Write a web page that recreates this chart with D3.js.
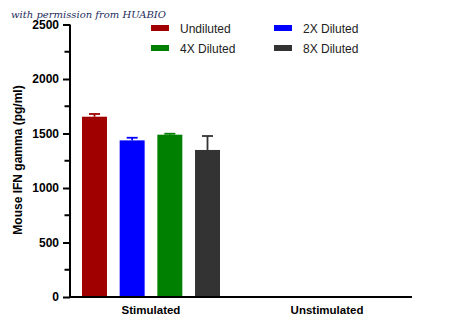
<!DOCTYPE html>
<html><head><meta charset="utf-8">
<script src="https://cdn.jsdelivr.net/npm/d3@7"></script>
<style>body{margin:0;background:#fff}svg{display:block}</style>
</head><body>
<script>
const groups = ["Stimulated", "Unstimulated"];
const series = ["Undiluted", "2X Diluted", "4X Diluted", "8X Diluted"];
const legendOrder = ["Undiluted", "4X Diluted", "2X Diluted", "8X Diluted"];
const colors = ["#a00000", "#0000ff", "#008000", "#333333"];
const stimulatedMeans = [1654, 1437, 1489, 1349];
const stimulatedErr = [25, 24, 9, 128];
const unstimulatedMeans = [null, null, null, null];
const unstimulatedErr = [null, null, null, null];
const yTicks = [0, 500, 1000, 1500, 2000, 2500];

const W = 450, H = 329;
const svg = d3.select("body").append("svg").attr("width", W).attr("height", H);

const y = d3.scaleLinear().domain([0, 2500]).range([297, 24.5]);
const x0 = d3.scaleBand().domain(groups).range([63, 415]);
const span = 138;
const x1 = d3.scaleBand().domain(series).range([0, span]).paddingInner(0.337).paddingOuter(0.0);

const data = [
  {g: "Stimulated", m: stimulatedMeans, e: stimulatedErr},
  {g: "Unstimulated", m: unstimulatedMeans, e: unstimulatedErr}
];

const offset = (x0.bandwidth() - span) / 2;
data.forEach(d => {
  series.forEach((s, i) => {
    if (d.m[i] == null) return;
    const bx = x0(d.g) + offset + x1(s);
    const bw = x1.bandwidth();
    svg.append("rect").attr("x", bx).attr("y", y(d.m[i]))
      .attr("width", bw).attr("height", y(0) - y(d.m[i]))
      .attr("fill", colors[i]);
    const cx = bx + bw / 2;
    const top = y(d.m[i] + d.e[i]);
    svg.append("line").attr("x1", cx).attr("x2", cx).attr("y1", y(d.m[i])).attr("y2", top)
      .attr("stroke", colors[i]).attr("stroke-width", 1.8);
    svg.append("line").attr("x1", cx - 5.5).attr("x2", cx + 5.5).attr("y1", top).attr("y2", top)
      .attr("stroke", colors[i]).attr("stroke-width", 1.8);
  });
});

// Y axis
const yAxis = d3.axisLeft(y).tickValues(yTicks).tickSize(7).tickPadding(4).tickFormat(d3.format("d"));
const yg = svg.append("g").attr("transform", "translate(70,0)").call(yAxis);
yg.select(".domain").attr("stroke", "#000").attr("stroke-width", 2).attr("d", `M0,${y(2500)}V${y(0)}`);
yg.selectAll(".tick line").attr("stroke-width", 2);
yg.selectAll(".tick text").attr("font-family", "Liberation Sans, Arial, sans-serif")
  .attr("font-size", 12).attr("font-weight", "bold").attr("fill", "#000");
const minor = d3.range(250, 2500, 500);
svg.append("g").selectAll("line").data(minor).join("line")
  .attr("x1", 64.5).attr("x2", 70).attr("y1", d => y(d)).attr("y2", d => y(d))
  .attr("stroke", "#000").attr("stroke-width", 2);

// X axis
const xAxis = d3.axisBottom(x0).tickSize(0).tickPadding(9);
const xg = svg.append("g").attr("transform", `translate(0,${y(0)})`).call(xAxis);
xg.select(".domain").attr("stroke", "#000").attr("stroke-width", 2.2).attr("d", "M69,0H412");
xg.selectAll(".tick text").attr("font-family", "Liberation Sans, Arial, sans-serif")
  .attr("font-size", 11.5).attr("font-weight", "bold").attr("fill", "#000");

// Y title
svg.append("text").attr("transform", "translate(22,160) rotate(-90)")
  .attr("text-anchor", "middle").attr("font-family", "Liberation Sans, Arial, sans-serif")
  .attr("font-size", 12).attr("font-weight", "bold").attr("fill", "#000")
  .text("Mouse IFN gamma (pg/ml)");

// Legend
const legPos = [[151, 25], [151, 45], [274, 25], [274, 45]];
legendOrder.forEach((s, k) => {
  const i = series.indexOf(s);
  const [lx, ly] = legPos[k];
  svg.append("rect").attr("x", lx).attr("y", ly).attr("width", 18).attr("height", 6).attr("fill", colors[i]);
  svg.append("text").attr("x", lx + 29).attr("y", ly + 7.5).attr("font-family", "Liberation Sans, Arial, sans-serif")
    .attr("font-size", 12).attr("fill", "#222").text(s);
});

// Watermark
svg.append("text").attr("x", 11).attr("y", 18).attr("font-family", "DejaVu Serif, Liberation Serif, serif")
  .attr("font-style", "italic").attr("font-size", 10).attr("fill", "#1c2b5c")
  .text("with permission from HUABIO");
</script>
</body></html>
